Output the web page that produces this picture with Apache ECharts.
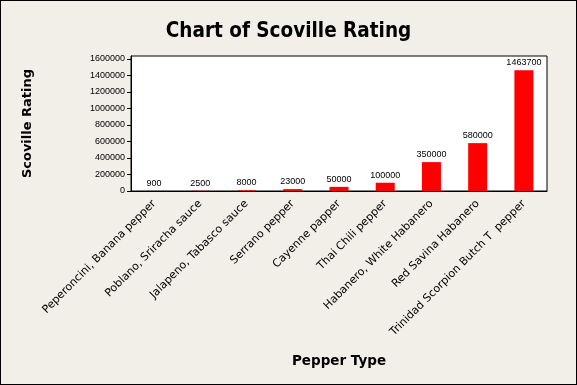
<!DOCTYPE html>
<html><head><meta charset="utf-8">
<script src="https://cdn.jsdelivr.net/npm/echarts@6/dist/echarts.min.js"></script>
<style>html,body{margin:0;padding:0;background:#f2efe9;}#c{width:577px;height:385px;box-sizing:border-box;border:1px solid #000;}</style>
</head><body><div id="c"></div>
<script>
const categories = ["Peperoncini, Banana pepper","Poblano, Sriracha sauce","Jalapeno, Tabasco sauce","Serrano pepper","Cayenne papper","Thai Chili pepper","Habanero, White Habanero","Red Savina Habanero","Trinidad Scorpion Butch T  pepper"];
const values = [900,2500,8000,23000,50000,100000,350000,580000,1463700];
const yTicks = [0,200000,400000,600000,800000,1000000,1200000,1400000,1600000];
const yMin = 0, yMax = 1636000;

const chart = echarts.init(document.getElementById('c'), null, {renderer:'canvas'});
chart.setOption({
  backgroundColor:'#f2efe9',
  animation:false,
  title:{text:'Chart of Scoville Rating',left:'center',top:15,textStyle:{fontFamily:'DejaVu Sans Condensed',fontSize:20.5,fontWeight:'bold',color:'#000'}},
  grid:{left:130,top:55,right:29,bottom:193,backgroundColor:'#fff',show:true,borderColor:'#000',borderWidth:1},
  xAxis:{type:'category',data:categories,
    name:'Pepper Type',nameLocation:'middle',nameGap:163,
    nameTextStyle:{fontFamily:'DejaVu Sans',fontSize:13.5,fontWeight:'bold',color:'#000'},
    axisLine:{lineStyle:{color:'#000'}},
    axisTick:{alignWithLabel:true,length:4,lineStyle:{color:'#000'}},
    axisLabel:{rotate:45,interval:0,fontFamily:'DejaVu Sans',fontSize:11,color:'#000',margin:11}},
  yAxis:{type:'value',min:yMin,max:yMax,
    name:'Scoville Rating',nameLocation:'middle',nameGap:97,
    nameTextStyle:{fontFamily:'DejaVu Sans',fontSize:13,fontWeight:'bold',color:'#000'},
    axisLine:{show:true,lineStyle:{color:'#000'}},
    axisTick:{show:true,length:4,customValues:yTicks,lineStyle:{color:'#000'}},
    splitLine:{show:false},
    axisLabel:{fontFamily:'Liberation Sans',fontSize:9,color:'#000',margin:6,customValues:yTicks,formatter:v=>String(v)}},
  series:[{type:'bar',data:values,barWidth:19,itemStyle:{color:'#ff0000'},
    label:{show:true,position:'top',distance:3,fontFamily:'Liberation Sans',fontSize:9,color:'#000'}}]
});
</script></body></html>
